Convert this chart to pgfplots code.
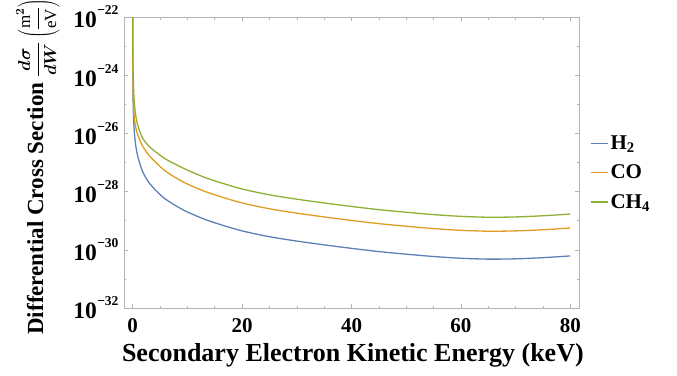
\documentclass[border=0pt]{standalone}
\usepackage{pgfplots}
\pgfplotsset{compat=1.18}
\usepackage{fontspec}
\setmainfont{Liberation Serif}
\definecolor{cH}{HTML}{5E81B5}
\definecolor{cC}{HTML}{E19C24}
\definecolor{cM}{HTML}{8FB032}
\definecolor{fr}{HTML}{B4B4B4}
\newcommand{\tl}[1]{10\raisebox{0.55em}{\fontsize{13.5}{14}\selectfont\bfseries\kern0.5pt −#1}}
\begin{document}
\begin{tikzpicture}
\begin{axis}[
  scale only axis, width=455pt, height=291pt,
  ymode=log, ymin=1e-32, ymax=1e-22, xmin=-1.6, xmax=81.6,
  axis line style={fr, line width=0.8pt},
  every tick/.style={fr, line width=0.6pt},
  major tick length=4pt, minor tick length=2.5pt,
  xtick={0,20,40,60,80}, xticklabels={0,20,40,60,80},
  minor xtick={5,10,15,25,30,35,45,50,55,65,70,75},
  ytick={1e-32,1e-30,1e-28,1e-26,1e-24,1e-22},
  yticklabels={\tl{32},\tl{30},\tl{28},\tl{26},\tl{24},\tl{22}},
  minor ytick={1e-31,1e-29,1e-27,1e-25,1e-23},
  xticklabel style={font=\fontsize{21}{22}\selectfont\bfseries, yshift=-7pt},
  yticklabel style={font=\fontsize{23.5}{24}\selectfont\bfseries, xshift=-2pt},
  xlabel={Secondary Electron Kinetic Energy (keV)},
  ylabel={Differential Cross Section {\fontsize{17}{19}\selectfont$\displaystyle\frac{d\sigma}{dW}\left(\frac{\mbox{\mdseries m}^{2}}{\mbox{\mdseries eV}}\right)$}},
  x label style={font=\fontsize{26}{28}\selectfont\bfseries, at={(axis description cs:0.503,0)}, anchor=base, yshift=-53.7pt},
  y label style={font=\fontsize{23}{26}\selectfont\bfseries\boldmath, at={(axis description cs:-0.178,0.486)}, anchor=base},
  legend style={at={(axis description cs:1,0.465)}, anchor=west, xshift=8pt, draw=none, fill=none,
    font=\fontsize{21}{24}\selectfont\bfseries, row sep=10pt, cells={anchor=west}},
  legend image code/.code={\draw[#1] (0pt,0pt) -- (17pt,0pt);},
  every axis plot/.append style={line width=1.3pt, smooth, tension=0.5},
]
\addplot[cH] coordinates {(0.001,1.738e-22)(0.002,5.370e-23)(0.005,1.122e-23)(0.01,3.467e-24)(0.02,1.047e-24)(0.05,2.239e-25)(0.1,6.761e-26)(0.2,2.089e-26)(0.31,1.0e-26)(0.5,4.467e-27)(0.75,2.239e-27)(1,1.413e-27)(1.5,6.918e-28)(2,4.074e-28)(3,1.995e-28)(4.5,9.772e-29)(6,5.495e-29)(8,3.162e-29)(10,1.995e-29)(13,1.148e-29)(16,7.413e-30)(20,4.467e-30)(25,2.818e-30)(30,1.995e-30)(35,1.479e-30)(40,1.122e-30)(45,8.710e-31)(50,7.079e-31)(55,5.888e-31)(60,5.129e-31)(65,4.786e-31)(70,4.898e-31)(75,5.370e-31)(80,6.166e-31)};
\addlegendentry{H\textsubscript{2}}
\addplot[cC] coordinates {(0.001,3.467e-22)(0.002,1.072e-22)(0.005,2.239e-23)(0.01,6.918e-24)(0.02,2.089e-24)(0.05,4.467e-25)(0.1,1.514e-25)(0.2,5.888e-26)(0.31,3.162e-26)(0.5,1.778e-26)(0.75,1.122e-26)(1,8.128e-27)(1.5,4.786e-27)(2,3.162e-27)(3,1.738e-27)(4.5,8.913e-28)(6,5.012e-28)(8,2.884e-28)(10,1.820e-28)(13,1.047e-28)(16,6.761e-29)(20,4.074e-29)(25,2.570e-29)(30,1.820e-29)(35,1.349e-29)(40,1.023e-29)(45,7.943e-30)(50,6.457e-30)(55,5.370e-30)(60,4.677e-30)(65,4.365e-30)(70,4.467e-30)(75,4.898e-30)(80,5.623e-30)};
\addlegendentry{CO}
\addplot[cM] coordinates {(0.002,3.388e-22)(0.005,7.079e-23)(0.01,2.455e-23)(0.02,8.318e-24)(0.05,1.995e-24)(0.1,6.761e-25)(0.2,2.089e-25)(0.31,1.0e-25)(0.5,4.677e-26)(0.75,2.512e-26)(1,1.698e-26)(1.5,9.120e-27)(2,6.026e-27)(3,3.548e-27)(4.5,2.089e-27)(6,1.318e-27)(8,8.318e-28)(10,5.495e-28)(13,3.162e-28)(16,2.042e-28)(20,1.230e-28)(25,7.762e-29)(30,5.495e-29)(35,4.074e-29)(40,3.090e-29)(45,2.399e-29)(50,1.950e-29)(55,1.622e-29)(60,1.413e-29)(65,1.318e-29)(70,1.349e-29)(75,1.479e-29)(80,1.698e-29)};
\addlegendentry{CH\textsubscript{4}}
\end{axis}
\pgfresetboundingbox
\path[use as bounding box] ([xshift=-124pt,yshift=-67pt]current axis.south west) rectangle ([xshift=98pt,yshift=17pt]current axis.north east);
\end{tikzpicture}
\end{document}
